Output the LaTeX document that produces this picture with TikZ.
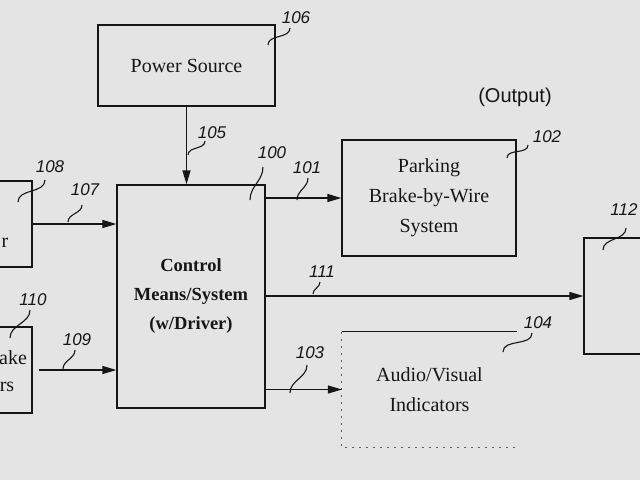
\documentclass[tikz,border=0pt]{standalone}
\usepackage{fontspec}
\setmainfont{Liberation Serif}
\setsansfont{Liberation Sans}
\usetikzlibrary{arrows.meta,calc}
\definecolor{paper}{RGB}{228,228,228}
\definecolor{ink}{RGB}{22,22,22}
\tikzset{
  >={Triangle[length=14pt,width=8pt]},
  block/.style={draw=ink,line width=1.3pt,inner sep=0pt,minimum width=#1,
    font=\fontsize{20}{30}\selectfont,text=ink,align=center},
  block/.default=174pt,
  plain/.style={inner sep=0pt,font=\fontsize{20}{30}\selectfont,text=ink,align=center},
  flow/.style={->,line width=1.3pt,draw=ink},
  num/.style={font=\sffamily\itshape\fontsize{17}{17}\selectfont,text=ink,inner sep=0pt},
  lead/.style={draw=ink,line width=1.1pt,out=90,in=-90},
  faint/.style={draw=ink!70,line width=1.1pt,dash pattern=on 2pt off 5pt},
}
\begin{document}
\begin{tikzpicture}[x=1pt,y=-1pt]
  \fill[paper] (0,0) rectangle (640,480);
  \useasboundingbox (0,0) rectangle (640,480);
  % blocks
  \node[block=177pt,minimum height=81pt] (power) at (186.5,65.5) {Power Source};
  \node[block=148pt,minimum height=223pt,font=\fontsize{18.5}{29}\selectfont\bfseries] (ctrl) at (191,296.5) {Control\\Means/System\\(w/Driver)};
  \node[block,minimum height=116pt] (park) at (429,198) {Parking\\Brake-by-Wire\\System};
  \node[plain,minimum width=175pt,minimum height=115pt] (audio) at (429.5,389.5) {Audio/Visual\\Indicators};
  \draw[ink,line width=1.3pt] (audio.north west) -- (audio.north east);
  \draw[faint] (audio.north west) -- (audio.south west) -- (audio.south east);
  \node[block=72pt,minimum height=86pt] (b108) at (-4,224) {};
  \node[block=72pt,minimum height=86pt] (b110) at (-4,370) {};
  \node[block=96pt,minimum height=116pt] (b112) at (632,296) {};
  \node[plain] (t108) at (5,243) {r};
  \node[plain] (t110a) at (13,358) {ake};
  \node[plain] (t110b) at (7,387) {rs};
  \node[font=\sffamily\fontsize{20}{20}\selectfont,text=ink] (out) at (515,97) {(Output)};
  % connectors
  \draw[flow] (power.south) -- (power.south |- ctrl.north);
  \draw[flow] (b108.east) -- (b108.east -| ctrl.west);
  \draw[flow] ([xshift=6pt]b110.east) -- (b110.east -| ctrl.west);
  \draw[flow] (ctrl.east |- park.west) -- (park.west);
  \draw[flow] (b112.west -| ctrl.east) -- (b112.west);
  \draw[flow] (ctrl.east |- audio.west) -- (audio.west);
  % reference numerals with leaders
  \foreach \n/\lx/\ly/\ax/\ay/\bx/\by in {106/296/18/268/45/290/28,105/212/133/188/155/205/141,
      100/272/153/250/200/263/167,108/50/167/18/202/45/180,107/85/190/68/222/82/205,
      110/33/300/10/338/30/310,109/77/340/63/369/75/350,101/307/168/297/200/308/178,
      102/547/137/507/158/528/145,111/322/272/313/294/320/282,112/624/210/603/250/626/228,
      103/310/353/290/393/307/365,104/538/323/503/352/532/333}{
    \coordinate (s\n) at (\ax,\ay);
    \coordinate (e\n) at (\bx,\by);
    \node[num] (n\n) at (\lx,\ly) {\n};
    \draw[lead] (s\n) to (e\n);
  }
\end{tikzpicture}
\end{document}
